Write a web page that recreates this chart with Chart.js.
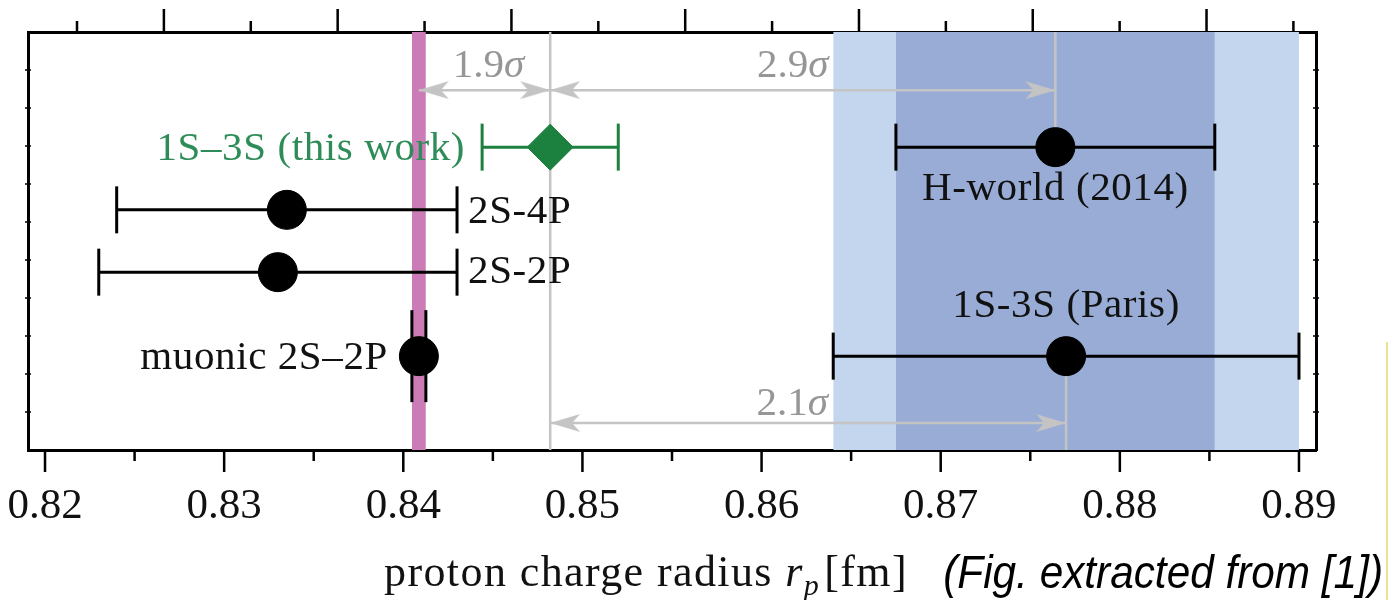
<!DOCTYPE html>
<html>
<head>
<meta charset="utf-8">
<script src="https://cdn.jsdelivr.net/npm/chart.js@4.4.1/dist/chart.umd.min.js"></script>
<style>
  html, body { margin: 0; padding: 0; background: #fff; }
  #wrap { width: 1388px; height: 600px; position: relative; }
</style>
</head>
<body>
<div id="wrap"><canvas id="chart" width="1388" height="600"></canvas></div>
<script>
/* ---- values (proton charge radius, fm) ---- */
const xRange       = [0.81905, 0.89095];
const tickLabels   = ['0.82', '0.83', '0.84', '0.85', '0.86', '0.87', '0.88', '0.89'];
const measurements = ['1S\u20133S (this work)', '2S-4P', '2S-2P', 'muonic 2S\u20132P', 'H-world (2014)', '1S-3S (Paris)'];
const radius       = [0.8482, 0.8335, 0.8330, 0.84087, 0.8764, 0.8770];
const sigma        = [0.0038, 0.0095, 0.0100, 0.00039, 0.0089, 0.0130];
const rowY         = [7.97, 6.32, 4.68, 2.47, 7.97, 2.47];

// sigma-distance arrows: from measurement -> to measurement
const arrowLabels  = ['1.9', '2.9', '2.1'];
const arrowFrom    = [3, 0, 0];
const arrowTo      = [0, 4, 5];
const arrowY       = [9.47, 9.47, 0.71];

// shaded bands: measurement whose +-1 sigma is shaded
const bandOf       = [5, 4, 3];

const Y_MAX = 11;
const SERIF = '"Liberation Serif", "DejaVu Serif", serif';
const GREEN = 'rgb(28,128,62)';
const GREEN_TEXT = 'rgb(46,140,88)';
const GRAY  = 'rgb(196,196,196)';
const GRAY_TEXT = 'rgb(150,150,150)';
const bandColors = ['rgb(196,214,238)', 'rgb(152,172,214)', 'rgb(203,124,183)'];

/* ---- arrow head image, tip at the image centre, pointing right ---- */
function makeArrowHead() {
  const c = document.createElement('canvas');
  c.width = 64; c.height = 22;
  const g = c.getContext('2d');
  g.fillStyle = GRAY;
  g.beginPath();
  g.moveTo(32, 11);
  g.lineTo(2, 2);
  g.lineTo(10, 11);
  g.lineTo(2, 20);
  g.closePath();
  g.fill();
  return c;
}
const arrowHead = makeArrowHead();

/* ---- datasets ---- */
const datasets = [];

// bands (drawn first)
bandOf.forEach((m, i) => {
  datasets.push({
    data: [{ x: radius[m] - sigma[m], y: Y_MAX }, { x: radius[m] + sigma[m], y: Y_MAX }],
    fill: 'origin',
    backgroundColor: bandColors[i],
    borderWidth: 0,
    pointRadius: 0,
    order: 20 - i
  });
});

// gray guide lines: this work full height, H-world up to top, Paris down to bottom
const guide = (pts) => ({
  data: pts, borderColor: GRAY, borderWidth: 2.5, pointRadius: 0, fill: false, order: 6
});
datasets.push(guide([{ x: radius[0], y: 0 }, { x: radius[0], y: Y_MAX }]));
datasets.push(guide([{ x: radius[4], y: rowY[4] }, { x: radius[4], y: Y_MAX }]));
datasets.push(guide([{ x: radius[5], y: 0 }, { x: radius[5], y: rowY[5] }]));

// sigma arrows
arrowLabels.forEach((_, i) => {
  datasets.push({
    data: [{ x: radius[arrowFrom[i]], y: arrowY[i] }, { x: radius[arrowTo[i]], y: arrowY[i] }],
    borderColor: GRAY,
    borderWidth: 2.5,
    pointStyle: arrowHead,
    pointRotation: [180, 0],
    pointRadius: 10,
    fill: false,
    order: 5
  });
});

// error bars with caps
measurements.forEach((_, i) => {
  const col = i === 0 ? GREEN : '#000';
  datasets.push({
    data: [{ x: radius[i] - sigma[i], y: rowY[i] }, { x: radius[i] + sigma[i], y: rowY[i] }],
    borderColor: col,
    borderWidth: 3,
    pointStyle: 'line',
    pointRotation: 90,
    pointRadius: i === 3 ? 46 : 23.5,
    pointBorderColor: col,
    pointBorderWidth: 3,
    fill: false,
    order: 2
  });
});

// central values
datasets.push({
  data: radius.map((r, i) => ({ x: r, y: rowY[i] })),
  showLine: false,
  pointStyle: radius.map((_, i) => i === 0 ? 'rectRot' : 'circle'),
  pointRadius: radius.map((_, i) => i === 0 ? 23 : 19.5),
  pointBackgroundColor: radius.map((_, i) => i === 0 ? GREEN : '#000'),
  pointBorderColor: radius.map((_, i) => i === 0 ? GREEN : '#000'),
  pointBorderWidth: 1,
  order: 1
});

/* ---- helpers ---- */
function isMajor(v) {
  return Math.abs(Math.round(v * 1000)) % 10 === 0;
}

/* ---- tick marks on all four sides ---- */
const frameTicks = {
  id: 'frameTicks',
  afterDraw(chart) {
    const { ctx, chartArea: a, scales } = chart;
    ctx.save();
    ctx.strokeStyle = '#000';
    ctx.lineWidth = 2.5;
    ctx.beginPath();
    scales.x.ticks.forEach(t => {
      const px = scales.x.getPixelForValue(t.value);
      const len = isMajor(t.value) ? 22 : 11;
      ctx.moveTo(px, a.bottom); ctx.lineTo(px, a.bottom + len);
    });
    scales.x2.ticks.forEach(t => {
      const px = scales.x2.getPixelForValue(t.value);
      const len = Math.round(t.value) % 2 === 0 ? 23 : 11;
      ctx.moveTo(px, a.top); ctx.lineTo(px, a.top - len);
    });
    ctx.stroke();
    ctx.lineWidth = 1.5;
    ctx.beginPath();
    scales.y.ticks.forEach(t => {
      if (t.value <= 0 || t.value >= Y_MAX) return;
      const py = scales.y.getPixelForValue(t.value);
      ctx.moveTo(a.left - 3, py); ctx.lineTo(a.left + 3, py);
      ctx.moveTo(a.right + 3, py); ctx.lineTo(a.right - 3, py);
    });
    ctx.stroke();
    ctx.restore();
  }
};

/* ---- text annotations ---- */
function drawSigma(ctx, label, cx, base) {
  ctx.font = '41px ' + SERIF;
  const w1 = ctx.measureText(label).width;
  ctx.font = 'italic 41px ' + SERIF;
  const w2 = ctx.measureText('\u03c3').width;
  const x0 = cx - (w1 + w2) / 2;
  ctx.fillStyle = GRAY_TEXT;
  ctx.textAlign = 'left';
  ctx.font = '41px ' + SERIF;
  ctx.fillText(label, x0, base);
  ctx.font = 'italic 41px ' + SERIF;
  ctx.fillText('\u03c3', x0 + w1, base);
}

const figText = {
  id: 'figText',
  afterDraw(chart) {
    const { ctx, scales: { x, y } } = chart;
    const px = v => x.getPixelForValue(v);
    const py = v => y.getPixelForValue(v);
    ctx.save();
    ctx.textBaseline = 'alphabetic';
    ctx.font = '41px ' + SERIF;
    ctx.letterSpacing = '0.6px';

    // measurement labels
    const place = [
      { align: 'right',  x: px(radius[0] - sigma[0]) - 17, y: py(rowY[0]) + 13, color: GREEN_TEXT },
      { align: 'left',   x: px(radius[1] + sigma[1]) + 11, y: py(rowY[1]) + 13, color: '#111' },
      { align: 'left',   x: px(radius[2] + sigma[2]) + 11, y: py(rowY[2]) + 11, color: '#111' },
      { align: 'right',  x: px(radius[3]) - 31,            y: py(rowY[3]) + 13, color: '#111' },
      { align: 'center', x: px(radius[4]),                 y: py(rowY[4]) + 53, color: '#111' },
      { align: 'center', x: px(radius[5]),                 y: py(rowY[5]) - 39, color: '#111' }
    ];
    measurements.forEach((m, i) => {
      ctx.fillStyle = place[i].color;
      ctx.textAlign = place[i].align;
      ctx.fillText(m, place[i].x, place[i].y);
    });
    ctx.letterSpacing = '0px';

    // sigma labels above the arrows
    const sigShift = [4, -10, -16];
    const sigLift  = [-13, -13, -8];
    arrowLabels.forEach((l, i) => {
      const mid = (px(radius[arrowFrom[i]]) + px(radius[arrowTo[i]])) / 2;
      drawSigma(ctx, l, mid + sigShift[i], py(arrowY[i]) + sigLift[i]);
    });

    // axis title: proton charge radius r_p [fm]
    const base = 586;
    ctx.letterSpacing = '1.4px';
    const parts = [
      ['proton charge radius ', '44px ' + SERIF, 0],
      ['r', 'italic 44px ' + SERIF, 0],
      ['p', 'italic 30px ' + SERIF, 9],
      ['[fm]', '44px ' + SERIF, 0]
    ];
    let total = 0;
    parts.forEach(p => { ctx.font = p[1]; total += ctx.measureText(p[0]).width; });
    let cx = 644 - total / 2;
    ctx.fillStyle = '#111';
    ctx.textAlign = 'left';
    parts.forEach(p => {
      ctx.font = p[1];
      ctx.fillText(p[0], cx, base + p[2]);
      cx += ctx.measureText(p[0]).width + (p[0] === 'p' ? 4 : 0);
    });
    ctx.letterSpacing = '0px';

    // source note, condensed italic sans
    ctx.save();
    ctx.translate(1383, 588);
    ctx.scale(0.92, 1);
    ctx.font = 'italic 46px "Liberation Sans", Arial, sans-serif';
    ctx.textAlign = 'right';
    ctx.fillStyle = '#000';
    ctx.fillText('(Fig. extracted from [1])', 0, 0);
    ctx.restore();

    // slide edge
    ctx.strokeStyle = 'rgb(238,226,150)';
    ctx.lineWidth = 2;
    ctx.beginPath();
    ctx.moveTo(1387, 342); ctx.lineTo(1387, 600);
    ctx.stroke();
    ctx.restore();
  }
};

/* ---- chart ---- */
const border = { display: true, color: '#000', width: 3 };

new Chart(document.getElementById('chart'), {
  type: 'line',
  data: { datasets },
  options: {
    responsive: false,
    animation: false,
    events: [],
    layout: { autoPadding: false, padding: 0 },
    plugins: { legend: { display: false }, tooltip: { enabled: false } },
    scales: {
      x: {
        type: 'linear', position: 'bottom',
        min: xRange[0], max: xRange[1],
        ticks: {
          stepSize: 0.005, includeBounds: false, autoSkip: false, maxRotation: 0,
          padding: 31,
          color: '#111',
          font: { family: SERIF, size: 43 },
          callback: v => isMajor(v) ? tickLabels[Math.round((v - 0.82) * 100)] : ''
        },
        grid: { display: false, drawTicks: false },
        border,
        afterFit: s => { s.height = 150; s.paddingLeft = 0; s.paddingRight = 0; }
      },
      x2: {
        type: 'linear', position: 'top',
        min: 0.436, max: 15.26,
        ticks: { display: false, stepSize: 1, includeBounds: false },
        grid: { display: false, drawTicks: false },
        border,
        afterFit: s => { s.height = 32; s.paddingLeft = 0; s.paddingRight = 0; }
      },
      y: {
        type: 'linear', position: 'left',
        min: 0, max: Y_MAX,
        ticks: { display: false, stepSize: 1 },
        grid: { display: false, drawTicks: false },
        border,
        afterFit: s => { s.width = 28; s.paddingTop = 0; s.paddingBottom = 0; }
      },
      y2: {
        type: 'linear', position: 'right',
        min: 0, max: Y_MAX,
        ticks: { display: false, stepSize: 1 },
        grid: { display: false, drawTicks: false },
        border,
        afterFit: s => { s.width = 72; s.paddingTop = 0; s.paddingBottom = 0; }
      }
    }
  },
  plugins: [frameTicks, figText]
});
</script>
</body>
</html>
